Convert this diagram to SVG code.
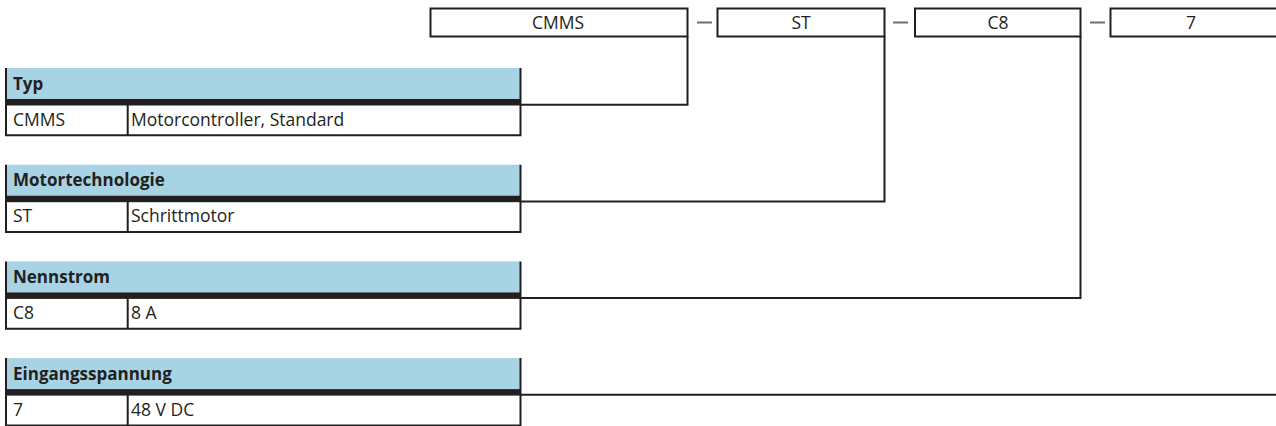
<svg xmlns="http://www.w3.org/2000/svg" width="1276" height="426" viewBox="0 0 1276 426">
<style>
.ln{stroke:#231f20;stroke-width:2;fill:none}
.box{stroke:#231f20;stroke-width:2;fill:#fff}
.dash{stroke:#6d6e70;stroke-width:2}
.hdr{fill:#a8d3e4}
.bar{fill:#231f20}
.t{font-family:"Open Sans","Noto Sans","Liberation Sans",sans-serif;font-size:17.5px;fill:#231f20}
.b{font-weight:bold;font-size:17px}
.c{text-anchor:middle}
</style>
<rect width="1276" height="426" fill="#fff"/>
<g id="code">
  <rect class="box" x="430.5" y="8.5" width="257" height="28"/>
  <text class="t c" x="558" y="29">CMMS</text>
  <line class="dash" x1="697" y1="22.5" x2="712" y2="22.5"/>
  <rect class="box" x="717.5" y="8.5" width="167" height="28"/>
  <text class="t c" x="801" y="29">ST</text>
  <line class="dash" x1="893" y1="22.5" x2="908" y2="22.5"/>
  <rect class="box" x="915" y="8.5" width="165.5" height="28"/>
  <text class="t c" x="998" y="29">C8</text>
  <line class="dash" x1="1090" y1="22.5" x2="1105" y2="22.5"/>
  <rect class="box" x="1110.5" y="8.5" width="170" height="28"/>
  <text class="t c" x="1191" y="29">7</text>
</g>
<g id="connectors">
  <polyline class="ln" points="520,104.7 687.5,104.7 687.5,36.5"/>
  <polyline class="ln" points="520,201.4 884.5,201.4 884.5,36.5"/>
  <polyline class="ln" points="520,298.1 1080.5,298.1 1080.5,36.5"/>
  <polyline class="ln" points="520,394.8 1277,394.8"/>
</g>
<g id="typ">
  <rect class="hdr" x="6" y="68" width="514.5" height="31"/>
  <rect class="bar" x="6" y="99" width="514.5" height="6.5"/>
  <path class="ln" d="M6,68V136M520.5,68V136M5,135.3H521.5M127.7,105V135"/>
  <text class="t b" x="13" y="89.5">Typ</text>
  <text class="t" x="13" y="125.5">CMMS</text>
  <text class="t" x="131" y="125.5">Motorcontroller, Standard</text>
</g>
<g id="motortechnologie" transform="translate(0,96.7)">
  <rect class="hdr" x="6" y="68" width="514.5" height="31"/>
  <rect class="bar" x="6" y="99" width="514.5" height="6.5"/>
  <path class="ln" d="M6,68V136M520.5,68V136M5,135.3H521.5M127.7,105V135"/>
  <text class="t b" x="13" y="89.5">Motortechnologie</text>
  <text class="t" x="13" y="125.5">ST</text>
  <text class="t" x="131" y="125.5">Schrittmotor</text>
</g>
<g id="nennstrom" transform="translate(0,193.4)">
  <rect class="hdr" x="6" y="68" width="514.5" height="31"/>
  <rect class="bar" x="6" y="99" width="514.5" height="6.5"/>
  <path class="ln" d="M6,68V136M520.5,68V136M5,135.3H521.5M127.7,105V135"/>
  <text class="t b" x="13" y="89.5">Nennstrom</text>
  <text class="t" x="13" y="125.5">C8</text>
  <text class="t" x="131" y="125.5">8 A</text>
</g>
<g id="eingangsspannung" transform="translate(0,290.1)">
  <rect class="hdr" x="6" y="68" width="514.5" height="31"/>
  <rect class="bar" x="6" y="99" width="514.5" height="6.5"/>
  <path class="ln" d="M6,68V136M520.5,68V136M5,135.3H521.5M127.7,105V135"/>
  <text class="t b" x="13" y="89.5">Eingangsspannung</text>
  <text class="t" x="13" y="125.5">7</text>
  <text class="t" x="131" y="125.5">48 V DC</text>
</g>
</svg>
